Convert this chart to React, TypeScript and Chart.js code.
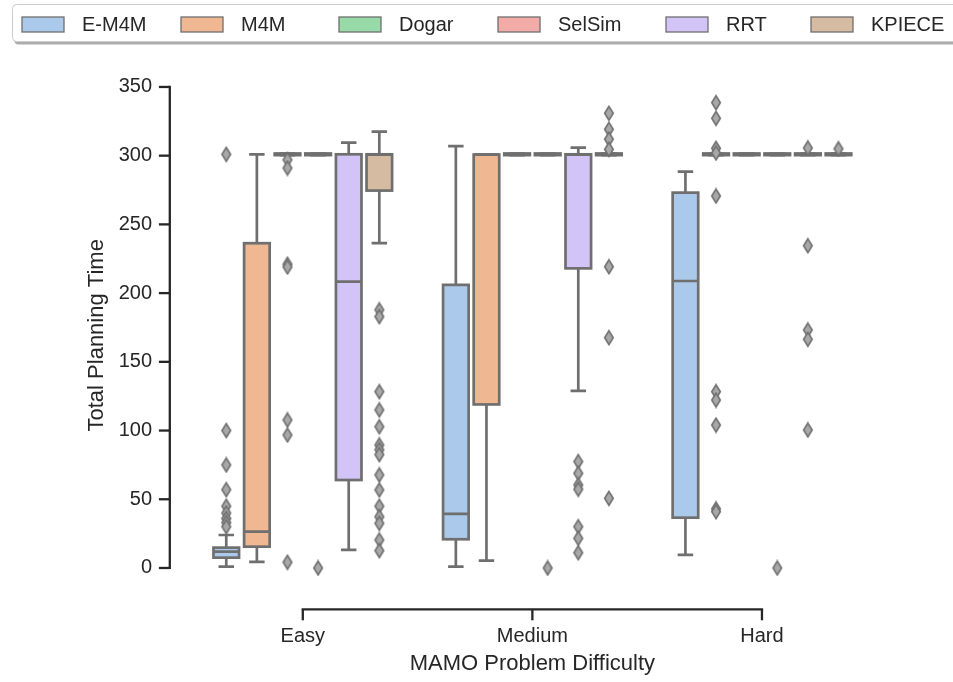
import React, { useEffect, useRef } from 'react';
import { Chart, registerables } from 'chart.js';

Chart.register(...registerables);

// ---------------- data ----------------
const categories = ['Easy', 'Medium', 'Hard'];
const methods = ['E-M4M', 'M4M', 'Dogar', 'SelSim', 'RRT', 'KPIECE'];
const colors = ['#abc9ea', '#efb792', '#98daa7', '#f3aba8', '#d3c4f7', '#d6bba3'];
const yTicks = [0, 50, 100, 150, 200, 250, 300, 350];

// rows: methods, columns: Easy, Medium, Hard
const whiskerLow = [
  [1, 1, 9.5],
  [4.5, 5.3, 300.4],
  [300.4, 300.4, 300.4],
  [300.4, 300.4, 300.4],
  [13.1, 128.8, 300.4],
  [236.3, 300.4, 300.4],
];
const q1 = [
  [7.5, 20.9, 36.6],
  [15.5, 119, 300.4],
  [300.4, 300.4, 300.4],
  [300.4, 300.4, 300.4],
  [64, 218, 300.4],
  [274.6, 300.4, 300.4],
];
const median = [
  [11.9, 39.3, 208.8],
  [26.4, 300.8, 301],
  [301, 301, 301],
  [301, 301, 301],
  [208.4, 300.8, 301],
  [300.8, 301, 301],
];
const q3 = [
  [14.8, 206, 273.1],
  [236.3, 300.8, 301.6],
  [301.6, 301.6, 301.6],
  [301.6, 301.6, 301.6],
  [301, 301, 301.6],
  [301, 301.6, 301.6],
];
const whiskerHigh = [
  [24, 307, 288.4],
  [301, 300.8, 301.6],
  [301.6, 301.6, 301.6],
  [301.6, 301.6, 301.6],
  [309.5, 305.9, 301.6],
  [317.5, 301.6, 301.6],
];
const outliers = [
  [[301, 100, 75, 57, 45, 40, 36, 33, 30], [], []],
  [[], [], [338.6, 327.2, 305.4, 302, 270.7, 128.3, 122.2, 104, 43, 41]],
  [[297, 291, 221, 219, 107.7, 96.8, 4.2], [], []],
  [[0], [0], [0]],
  [[], [77.4, 68.9, 60.4, 57.3, 30, 21.6, 11.1], [305.6, 234.5, 173.2, 166.4, 100.4]],
  [
    [187.8, 182.9, 128.3, 115, 102.8, 89.5, 86, 82.5, 67.7, 56.8, 45, 37.3, 32.5, 20.4, 12.6],
    [330.9, 319.2, 312, 304.6, 219.2, 167.6, 50.7],
    [305],
  ],
];

// ---------------- style / layout ----------------
const LINE = '#6f6f6f';
const AXIS = '#262626';
const TEXT = '#262626';
const FONT = '"Liberation Sans", Arial, sans-serif';
const BOX_LW = 2.7;
const SPINE_OFFSET = 18.2;
const TICK_LEN = 10.9;
const legendX = [22, 181, 339, 498, 666, 811];

function makeDiamond(): HTMLCanvasElement {
  const c = document.createElement('canvas');
  c.width = 12;
  c.height = 17;
  const g = c.getContext('2d')!;
  g.beginPath();
  g.moveTo(6, 1.6);
  g.lineTo(10.3, 8.5);
  g.lineTo(6, 15.4);
  g.lineTo(1.7, 8.5);
  g.closePath();
  g.fillStyle = '#a8a8a8';
  g.fill();
  g.strokeStyle = LINE;
  g.lineWidth = 1.6;
  g.stroke();
  return c;
}

let diamondImg: HTMLCanvasElement | null = null;

const boxPlugin = {
  id: 'boxDecor',
  afterDatasetsDraw(chart: any) {
    const ys = chart.scales.y;
    const ctx: CanvasRenderingContext2D = chart.ctx;
    const area = chart.chartArea;
    ctx.save();
    ctx.beginPath();
    ctx.rect(area.left - 20, area.top - 20, area.right - area.left + 40, area.bottom - area.top + 40);
    ctx.clip();
    ctx.strokeStyle = LINE;
    ctx.lineWidth = BOX_LW;
    ctx.lineJoin = 'miter';
    const seg = (x1: number, y1: number, x2: number, y2: number, cap: CanvasLineCap) => {
      ctx.lineCap = cap;
      ctx.beginPath();
      ctx.moveTo(x1, y1);
      ctx.lineTo(x2, y2);
      ctx.stroke();
    };
    chart.data.datasets.forEach((ds: any, di: number) => {
      const m = ds.methodIndex;
      const meta = chart.getDatasetMeta(di);
      meta.data.forEach((bar: any, j: number) => {
        const { x, y, base, width } = bar.getProps(['x', 'y', 'base', 'width'], true);
        const l = x - width / 2;
        const r = x + width / 2;
        const top = Math.min(y, base);
        const bot = Math.max(y, base);
        ctx.strokeRect(l, top, r - l, bot - top);
        const pLo = ys.getPixelForValue(whiskerLow[m][j]);
        const pHi = ys.getPixelForValue(whiskerHigh[m][j]);
        if (pLo > bot) seg(x, bot, x, pLo, 'butt');
        if (pHi < top) seg(x, top, x, pHi, 'butt');
        const cw = width * 0.25;
        seg(x - cw, pLo, x + cw, pLo, 'square');
        seg(x - cw, pHi, x + cw, pHi, 'square');
        const pm = ys.getPixelForValue(median[m][j]);
        seg(l, pm, r, pm, 'butt');
        if (diamondImg) {
          const img = diamondImg;
          outliers[m][j].forEach((v) => {
            const py = ys.getPixelForValue(v);
            ctx.drawImage(img, x - img.width / 2, py - img.height / 2);
          });
        }
      });
    });
    ctx.restore();
  },
};

const spinePlugin = {
  id: 'spines',
  afterDraw(chart: any) {
    const { ctx, chartArea } = chart;
    const xs = chart.scales.x;
    const ys = chart.scales.y;
    const sx = chartArea.left - SPINE_OFFSET;
    const sy = chartArea.bottom + SPINE_OFFSET;
    ctx.save();
    ctx.strokeStyle = AXIS;
    ctx.lineWidth = 2.3;
    ctx.lineCap = 'square';
    ctx.beginPath();
    ctx.moveTo(sx, ys.getPixelForValue(yTicks[0]));
    ctx.lineTo(sx, ys.getPixelForValue(yTicks[yTicks.length - 1]));
    ctx.stroke();
    ctx.beginPath();
    ctx.moveTo(xs.getPixelForValue(0), sy);
    ctx.lineTo(xs.getPixelForValue(categories.length - 1), sy);
    ctx.stroke();
    ctx.lineCap = 'butt';
    yTicks.forEach((v) => {
      const p = ys.getPixelForValue(v);
      ctx.beginPath();
      ctx.moveTo(sx - TICK_LEN, p);
      ctx.lineTo(sx, p);
      ctx.stroke();
    });
    categories.forEach((_, i) => {
      const p = xs.getPixelForValue(i);
      ctx.beginPath();
      ctx.moveTo(p, sy);
      ctx.lineTo(p, sy + TICK_LEN);
      ctx.stroke();
    });
    ctx.restore();
  },
};

function roundRect(ctx: CanvasRenderingContext2D, x: number, y: number, w: number, h: number, r: number) {
  ctx.beginPath();
  ctx.moveTo(x + r, y);
  ctx.lineTo(x + w - r, y);
  ctx.arcTo(x + w, y, x + w, y + r, r);
  ctx.lineTo(x + w, y + h - r);
  ctx.arcTo(x + w, y + h, x + w - r, y + h, r);
  ctx.lineTo(x + r, y + h);
  ctx.arcTo(x, y + h, x, y + h - r, r);
  ctx.lineTo(x, y + r);
  ctx.arcTo(x, y, x + r, y, r);
  ctx.closePath();
}

const legendPlugin = {
  id: 'mplLegend',
  afterDraw(chart: any) {
    const ctx: CanvasRenderingContext2D = chart.ctx;
    ctx.save();
    roundRect(ctx, 14.5, 7.5, 960, 37, 4);
    ctx.fillStyle = 'rgba(0,0,0,0.32)';
    ctx.fill();
    roundRect(ctx, 12.5, 4.5, 960, 37, 4);
    ctx.fillStyle = '#ffffff';
    ctx.fill();
    ctx.strokeStyle = '#cccccc';
    ctx.lineWidth = 1;
    ctx.stroke();
    ctx.font = `20px ${FONT}`;
    ctx.textBaseline = 'middle';
    ctx.textAlign = 'left';
    methods.forEach((name, i) => {
      const px = legendX[i];
      ctx.fillStyle = colors[i];
      ctx.fillRect(px, 17, 42, 15);
      ctx.strokeStyle = LINE;
      ctx.lineWidth = 1.3;
      ctx.strokeRect(px, 17, 42, 15);
      ctx.fillStyle = TEXT;
      ctx.fillText(name, px + 60, 25);
    });
    ctx.restore();
  },
};

export default function App() {
  const ref = useRef<HTMLCanvasElement>(null);

  useEffect(() => {
    document.body.style.margin = '0';
    diamondImg = makeDiamond();
    const datasets = methods.map((name, m) => ({
      label: name,
      methodIndex: m,
      data: categories.map((_, j) => [q1[m][j], q3[m][j]]),
      backgroundColor: colors[m],
      borderWidth: 0,
      inflateAmount: 0,
      categoryPercentage: 0.8,
      barPercentage: 0.835,
    }));

    Chart.defaults.font.family = FONT;
    Chart.defaults.color = TEXT;

    const chart = new Chart(ref.current!, {
      type: 'bar',
      data: { labels: categories, datasets: datasets as any },
      options: {
        animation: false,
        responsive: false,
        devicePixelRatio: 1,
        events: [],
        layout: { padding: { top: 79.4, right: 76.25, left: 0, bottom: 0 } },
        plugins: {
          legend: { display: false },
          tooltip: { enabled: false },
        },
        scales: {
          x: {
            type: 'category',
            offset: true,
            grid: { display: false, drawTicks: false },
            border: { display: false },
            ticks: { font: { size: 20 }, color: TEXT, padding: 33, maxRotation: 0 },
            title: {
              display: true,
              text: 'MAMO Problem Difficulty',
              font: { size: 22 },
              color: TEXT,
              padding: { top: 0, bottom: 5 },
            },
            afterFit: (s: any) => {
              s.height = 90.8;
            },
          },
          y: {
            type: 'linear',
            min: -16.9,
            max: 355.5,
            bounds: 'data',
            grid: { display: false, drawTicks: false },
            border: { display: false },
            ticks: {
              font: { size: 20 },
              color: TEXT,
              padding: 36,
              callback: (v: any) => String(v),
            },
            afterBuildTicks: (s: any) => {
              s.ticks = yTicks.map((v) => ({ value: v }));
            },
            title: {
              display: true,
              text: 'Total Planning Time',
              font: { size: 22 },
              color: TEXT,
              padding: { top: 84, bottom: 0 },
            },
            afterFit: (s: any) => {
              s.width = 188;
            },
          },
        },
      } as any,
      plugins: [boxPlugin, spinePlugin, legendPlugin],
    });
    return () => chart.destroy();
  }, []);

  return (
    <div style={{ position: 'absolute', left: 0, top: 0, width: 953, height: 682 }}>
      <canvas ref={ref} width={953} height={682} style={{ width: 953, height: 682, display: 'block' }} />
    </div>
  );
}
